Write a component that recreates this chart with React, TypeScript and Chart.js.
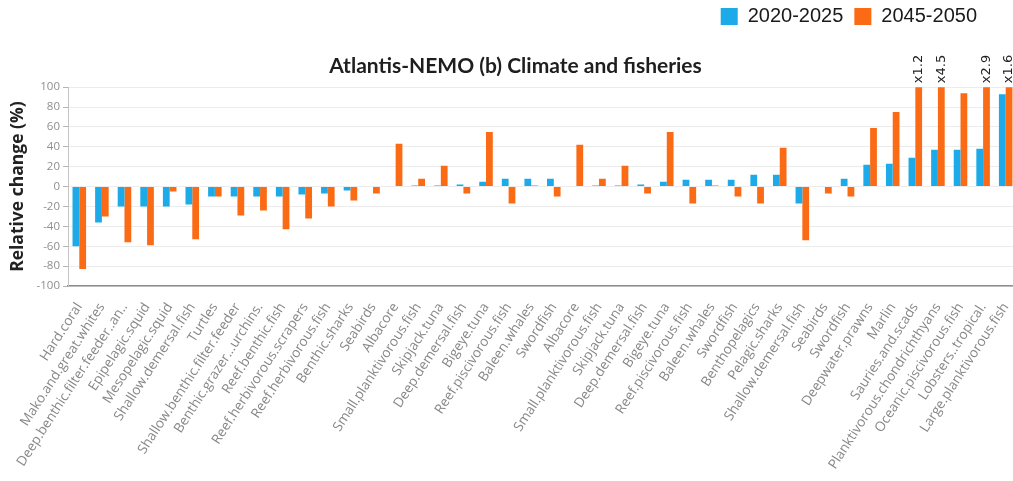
import { useEffect, useRef } from "react";
import { Chart, registerables } from "chart.js";

Chart.register(...registerables);

// Functional groups, in plotting order
const categories = [
  "Hard.coral",
  "Mako.and.great.whites",
  "Deep.benthic.filter.feeder..an..",
  "Epipelagic.squid",
  "Mesopelagic.squid",
  "Shallow.demersal.fish",
  "Turtles",
  "Shallow.benthic.filter.feeder",
  "Benthic.grazer...urchins.",
  "Reef.benthic.fish",
  "Reef.herbivorous.scrapers",
  "Reef.herbivorous.fish",
  "Benthic.sharks",
  "Seabirds",
  "Albacore",
  "Small.planktivorous.fish",
  "Skipjack.tuna",
  "Deep.demersal.fish",
  "Bigeye.tuna",
  "Reef.piscivorous.fish",
  "Baleen.whales",
  "Swordfish",
  "Albacore",
  "Small.planktivorous.fish",
  "Skipjack.tuna",
  "Deep.demersal.fish",
  "Bigeye.tuna",
  "Reef.piscivorous.fish",
  "Baleen.whales",
  "Swordfish",
  "Benthopelagics",
  "Pelagic.sharks",
  "Shallow.demersal.fish",
  "Seabirds",
  "Swordfish",
  "Deepwater.prawns",
  "Marlin",
  "Sauries.and.scads",
  "Planktivorous.chondrichthyans",
  "Oceanic.piscivorous.fish",
  "Lobsters..tropical.",
  "Large.planktivorous.fish",
];

// Relative change (%) for each period
const change2020to2025 = [
  -60, -36, -20, -20, -20, -18, -10, -10, -10, -10, -8, -7, -4, 0, 0, 1, 1, 2,
  5, 8, 8, 8, 0, 1, 1, 2, 5, 7, 7, 7, 12, 12, -17, 0, 8, 22, 23, 29, 37, 37,
  38, 93,
];

const change2045to2050 = [
  -83, -30, -56, -59, -5, -53, -10, -29, -24, -43, -32, -20, -14, -7, 43, 8,
  21, -7, 55, -17, 1, -10, 42, 8, 21, -7, 55, -17, 1, -10, -17, 39, -54, -7,
  -10, 59, 75, 120, 450, 94, 290, 160,
];

const seriesNames = ["2020-2025", "2045-2050"];
const seriesColors = ["#1cabe8", "#fb6a14"];

const yMin = -100;
const yMax = 100;
const yStep = 20;

// Writes "x<factor>" above bars that run past the top of the axis
const overflowLabels = {
  id: "overflowLabels",
  afterDatasetsDraw(chart: any) {
    const { ctx, chartArea } = chart;
    const top = chart.scales.y.max;
    ctx.save();
    ctx.font = "13px 'DejaVu Sans'";
    ctx.fillStyle = "#222";
    ctx.textAlign = "left";
    ctx.textBaseline = "middle";
    chart.data.datasets.forEach((ds: any, di: number) => {
      const meta = chart.getDatasetMeta(di);
      ds.data.forEach((v: number, i: number) => {
        if (v <= top) return;
        const bar = meta.data[i];
        ctx.save();
        ctx.translate(bar.x, chartArea.top - 4);
        ctx.rotate(-Math.PI / 2);
        ctx.fillText("x" + (v / 100).toFixed(1), 0, 0);
        ctx.restore();
      });
    });
    ctx.restore();
  },
};

// Pulls the legend in from the right edge and up toward the top,
// and nudges the title a little to the right
const headerPlacement = {
  id: "headerPlacement",
  afterLayout(chart: any) {
    const lg = chart.legend;
    if (lg) {
      lg.right -= 29;
      lg.top -= 4.5;
      lg.bottom -= 4.5;
    }
    const tb = chart.titleBlock;
    if (tb) {
      tb.left += 14;
    }
  },
};

export default function App() {
  const canvasRef = useRef<HTMLCanvasElement>(null);

  useEffect(() => {
    const canvas = canvasRef.current;
    if (!canvas) return;
    const chart = new Chart(canvas, {
      type: "bar",
      data: {
        labels: categories,
        datasets: [
          {
            label: seriesNames[0],
            data: change2020to2025,
            backgroundColor: seriesColors[0],
            categoryPercentage: 0.6,
            barPercentage: 1,
          },
          {
            label: seriesNames[1],
            data: change2045to2050,
            backgroundColor: seriesColors[1],
            categoryPercentage: 0.6,
            barPercentage: 1,
          },
        ],
      },
      options: {
        responsive: false,
        animation: false,
        devicePixelRatio: 1,
        layout: { padding: 0 },
        plugins: {
          tooltip: { enabled: false },
          legend: {
            display: true,
            position: "top",
            align: "end",
            weight: 3000,
            labels: {
              boxWidth: 17,
              boxHeight: 17,
              padding: 11,
              color: "#1a1a1a",
              font: { family: "'Liberation Sans', Arial, sans-serif", size: 20 },
            },
          },
          title: {
            display: true,
            text: "Atlantis-NEMO (b) Climate and fisheries",
            color: "#1e1e1e",
            font: { family: "Lato, sans-serif", size: 21, weight: "bold" },
            padding: { top: 13, bottom: 8 },
          },
        },
        scales: {
          x: {
            grid: { display: false, drawTicks: false },
            border: { display: true, color: "#8c8c8c", width: 1.5 },
            ticks: {
              autoSkip: false,
              minRotation: 57,
              maxRotation: 57,
              padding: 14,
              color: "#878787",
              font: { family: "'Open Sans', sans-serif", size: 13.5 },
            },
            afterFit(scale: any) {
              scale.height = 195;
              scale.paddingLeft = 0;
              scale.paddingRight = 0;
            },
          },
          y: {
            min: yMin,
            max: yMax,
            ticks: {
              stepSize: yStep,
              padding: 3,
              color: "#8f8f8f",
              font: { family: "'Open Sans', sans-serif", size: 11.5 },
            },
            grid: {
              color: "#ececec",
              tickColor: "#b5b5b5",
              tickLength: 5,
            },
            border: { display: true, color: "#c4c4c4", width: 1 },
            title: {
              display: true,
              text: "Relative change (%)",
              color: "#222",
              font: { family: "'Open Sans', sans-serif", size: 17.5, weight: "bold" },
              padding: { top: 8, bottom: 0 },
            },
            afterFit(scale: any) {
              scale.width = 68;
            },
          },
        },
      },
      plugins: [overflowLabels, headerPlacement],
    });
    return () => chart.destroy();
  }, []);

  return (
    <div
      style={{
        position: "absolute",
        left: 0,
        top: 0,
        width: 1013,
        height: 481,
        overflow: "hidden",
        background: "#fff",
      }}
    >
      <canvas ref={canvasRef} width={1017} height={481} style={{ display: "block" }} />
    </div>
  );
}
